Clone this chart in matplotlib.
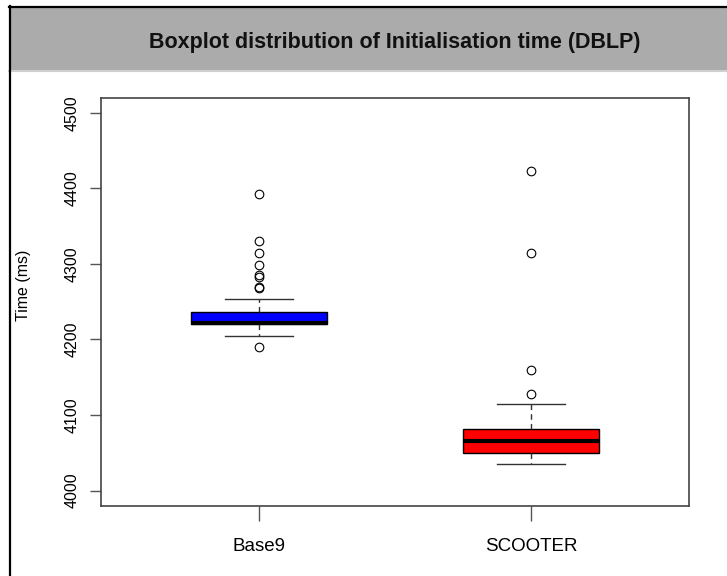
import matplotlib
matplotlib.use("Agg")
import matplotlib.pyplot as plt
from matplotlib.patches import Rectangle
from matplotlib.lines import Line2D

# stats (ms)
groups = ["Base9", "SCOOTER"]
q1 = [4220, 4050]
med = [4221.5, 4066]
q3 = [4237, 4081]
whis_lo = [4204, 4035]
whis_hi = [4253, 4114]
outliers_base9 = [4392, 4330, 4314, 4299, 4285, 4283, 4270, 4268, 4190]
outliers_scooter = [4128, 4160, 4315, 4423]
box_colors = ["#0000FF", "#FF0000"]
yticks = [4000, 4100, 4200, 4300, 4400, 4500]

plt.rcParams["font.family"] = ["Liberation Sans", "DejaVu Sans"]

W, H = 727, 576
fig = plt.figure(figsize=(W / 100, H / 100), dpi=100)

# title banner + frame lines (figure coords)
fig.patches.append(Rectangle((9 / W, 1 - 69.5 / H), 1, 62.5 / H, transform=fig.transFigure,
                             facecolor="#ABABAB", edgecolor="none", zorder=0))
fig.lines.append(Line2D([9 / W, 1], [1 - 70.5 / H] * 2, transform=fig.transFigure,
                        color="#CFCFCF", lw=1.5))
fig.lines.append(Line2D([9 / W, 1], [1 - 7 / H] * 2, transform=fig.transFigure,
                        color="black", lw=1.6))
fig.lines.append(Line2D([9.5 / W] * 2, [0, 1 - 6 / H], transform=fig.transFigure,
                        color="black", lw=1.6))
fig.text(395 / W, 1 - 48 / H, "Boxplot distribution of Initialisation time (DBLP)",
         ha="center", va="baseline", fontsize=15.5, fontweight="bold", color="#111111")

ax = fig.add_axes([101 / W, 1 - 505.7 / H, (689.3 - 101) / W, (505.7 - 97.7) / H])

stats = []
fliers = [outliers_base9, outliers_scooter]
for i in range(len(groups)):
    stats.append({"label": groups[i], "q1": q1[i], "med": med[i], "q3": q3[i],
                  "whislo": whis_lo[i], "whishi": whis_hi[i], "fliers": fliers[i]})

bp = ax.bxp(stats, positions=[1, 2], widths=0.5, capwidths=0.25, patch_artist=True,
            showfliers=True,
            boxprops=dict(edgecolor="black", linewidth=1.0),
            medianprops=dict(color="black", linewidth=3.0),
            whiskerprops=dict(color="#333333", linewidth=1.0, linestyle=(0, (4, 3))),
            capprops=dict(color="#333333", linewidth=1.0),
            flierprops=dict(marker="o", markerfacecolor="none", markeredgecolor="black",
                            markersize=6.2, markeredgewidth=0.8))
for patch, c in zip(bp["boxes"], box_colors):
    patch.set_facecolor(c)

ax.set_xlim(0.42, 2.58)
ax.set_ylim(3980, 4520)
ax.set_yticks(yticks)
ax.set_yticklabels([str(v) for v in yticks], rotation=90, va="center", fontsize=11.5)
ax.set_xticks([1, 2])
ax.set_xticklabels(groups, fontsize=13.5)
ax.tick_params(axis="y", length=7.7, width=1.0, color="#555555", pad=8)
ax.tick_params(axis="x", length=10.8, width=1.0, color="#555555", pad=12.5)
for s in ax.spines.values():
    s.set_color("#444444")
    s.set_linewidth(1.2)

fig.text(23.5 / W, 1 - 285 / H, "Time (ms)", rotation=90, ha="center", va="center",
         fontsize=11.5)

fig.savefig("out.png", dpi=100)
